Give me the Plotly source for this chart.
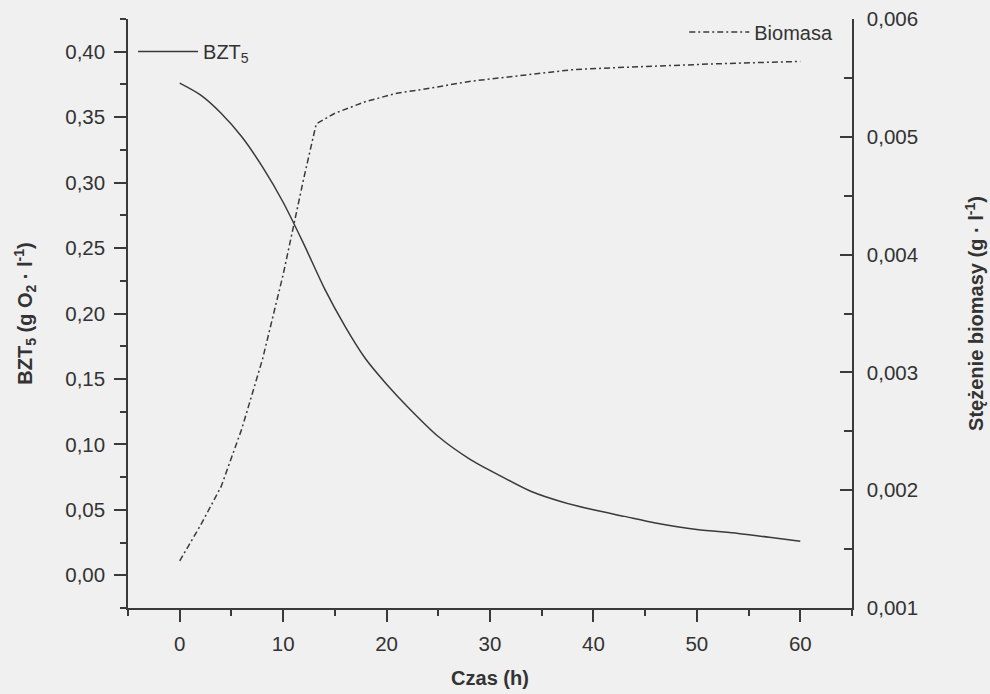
import plotly.graph_objects as go

# ---- data ----
czas_bzt = [0, 2, 4, 6, 8, 10, 12, 14, 16, 18, 20, 22, 25, 28, 31, 34, 37, 40, 43, 46, 50, 54, 57, 60]
bzt5 = [0.376, 0.367, 0.353, 0.335, 0.312, 0.285, 0.253, 0.219, 0.190, 0.165, 0.146, 0.129,
        0.106, 0.089, 0.076, 0.064, 0.056, 0.050, 0.045, 0.040, 0.035, 0.032, 0.029, 0.026]

czas_bio = [0, 2, 4, 6, 8, 10, 12, 13.2, 15, 18, 21, 24, 28, 33, 38, 43, 48, 52, 56, 60]
biomasa = [0.00140, 0.00170, 0.00203, 0.00252, 0.00311, 0.00383, 0.00465, 0.00511, 0.00520,
           0.00530, 0.00537, 0.00541, 0.00547, 0.00552, 0.00557, 0.00559, 0.00561, 0.00562,
           0.00563, 0.00564]

x_ticks = [0, 10, 20, 30, 40, 50, 60]

FONT = "Liberation Sans, Arial, sans-serif"
INK = "#3a3a3a"
BG = "#f0f0f0"
TXT = "#333333"

fig = go.Figure()
fig.add_trace(go.Scatter(
    x=czas_bzt, y=bzt5, mode="lines", name="BZT<sub>5</sub>",
    line=dict(color=INK, width=1.5, shape="spline", smoothing=0.8),
    legend="legend", yaxis="y"))
fig.add_trace(go.Scatter(
    x=czas_bio, y=biomasa, mode="lines", name="Biomasa",
    line=dict(color=INK, width=1.5, dash="6px,3px,2px,3px"),
    legend="legend2", yaxis="y2"))

axis_common = dict(showline=True, linecolor=INK, linewidth=1.5, showgrid=False, zeroline=False,
                   tickcolor=INK, tickwidth=1.5, ticklen=12, automargin=False,
                   tickfont=dict(family=FONT, size=20.5, color=TXT))
title_font = dict(family=FONT, size=20, color=TXT)

fig.update_layout(
    width=990, height=694,
    margin=dict(l=128, r=138, t=19, b=86),
    paper_bgcolor=BG, plot_bgcolor=BG,
    separators=", ",
    font=dict(family=FONT, color=TXT),
    xaxis=dict(range=[-5, 65], tickmode="array", tickvals=x_ticks, ticks="outside",
               minor=dict(dtick=5, tick0=0, ticks="outside", ticklen=6, tickcolor=INK, tickwidth=1.5),
               ticklabelstandoff=5,
               title=dict(text="<b>Czas (h)</b>", font=title_font, standoff=17),
               **axis_common),
    yaxis=dict(range=[-0.025, 0.425], tick0=0, dtick=0.05, tickformat=".2f", ticks="outside",
               minor=dict(dtick=0.025, tick0=0, ticks="outside", ticklen=6, tickcolor=INK, tickwidth=1.5),
               ticklabelstandoff=5,
               title=dict(text="<b>BZT<sub>5</sub> (g O<sub>2</sub> · l<sup>-1</sup>)</b>",
                          font=title_font, standoff=27),
               **axis_common),
    yaxis2=dict(range=[0.001, 0.006], tick0=0.001, dtick=0.001, tickformat=".3f", ticks="inside",
                overlaying="y", side="right",
                minor=dict(dtick=0.0005, tick0=0.001, ticks="inside", ticklen=8, tickcolor=INK, tickwidth=1.5),
                title=dict(text="<b>Stężenie biomasy (g · l<sup>-1</sup>)</b>",
                           font=title_font, standoff=52),
                ticklabelstandoff=9,
                **axis_common),
    legend=dict(x=0.007, y=0.945, xanchor="left", yanchor="middle", bgcolor="rgba(0,0,0,0)",
                font=dict(family=FONT, size=20, color=TXT), itemwidth=60),
    legend2=dict(x=0.981, y=0.978, xanchor="right", yanchor="middle", bgcolor="rgba(0,0,0,0)",
                 font=dict(family=FONT, size=20, color=TXT), itemwidth=60),
    showlegend=True,
)

fig.write_html("out.html", config={"displayModeBar": False},
               post_script="document.body.style.margin='0';document.body.style.background='%s';" % BG)
